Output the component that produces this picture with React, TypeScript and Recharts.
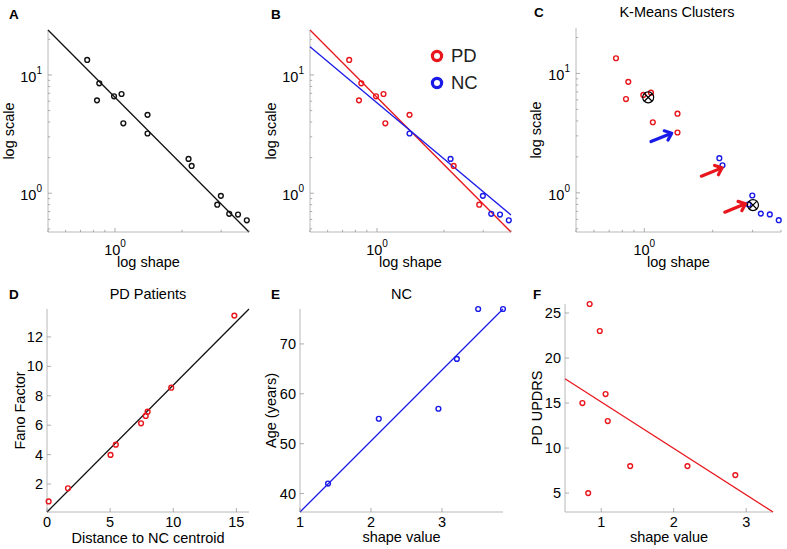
import React from 'react';
import { ComposedChart, Scatter, XAxis, YAxis, Legend } from 'recharts';

const FONT = '"Liberation Sans", Arial, Helvetica, sans-serif';
const RED = '#e8161c';
const BLUE = '#1a1ae8';
const BLACK = '#111111';
const FRAME = '#b8b8b8';

// gamma fit per subject (A-C): shape vs scale
const pdShape = [0.75, 0.85, 0.83, 0.99, 1.07, 1.09, 1.4, 2.21, 2.88];
const pdScale = [13.4, 8.5, 6.1, 6.6, 6.9, 3.9, 4.6, 1.7, 0.8];
const ncShape = [1.4, 2.14, 2.99, 3.26, 3.57, 3.91];
const ncScale = [3.2, 1.95, 0.95, 0.67, 0.66, 0.59];

// fitted power laws (end points)
const fitShape = [0.5, 4];
const allFitScale = [24, 0.47];
const pdFitScale = [24, 0.47];
const ncFitScale = [17.3, 0.655];

// k-means
const pdCluster = [1, 1, 1, 1, 1, 1, 1, 2, 2];
const ncCluster = [1, 2, 2, 2, 2, 2];
const centroidShape = [1.04, 3.01];
const centroidScale = [6.3, 0.79];
const arrowShape = [1.32, 2.2, 2.79];
const arrowScale = [3.16, 1.62, 0.81];
const arrowCluster = [2, 1, 1];

// D
const pdDistance = [0.13, 1.66, 5.03, 5.45, 7.45, 7.82, 7.97, 9.84, 14.84];
const pdFano = [0.82, 1.71, 3.98, 4.68, 6.13, 6.63, 6.92, 8.55, 13.45];
const fanoFitX = [0, 16];
const fanoFitY = [0.1, 13.9];

// E
const ncShapeValue = [1.395, 2.11, 2.95, 3.21, 3.51, 3.86];
const ncAge = [42, 55, 57, 67, 77, 77];
const ageFitX = [1, 3.86];
const ageFitY = [36.3, 77];

// F
const pdShapeValue = [0.74, 0.84, 0.82, 0.98, 1.06, 1.09, 1.4, 2.19, 2.85];
const pdUpdrs = [15, 26, 5, 23, 16, 13, 8, 8, 7];
const updrsFitX = [0.5, 3.37];
const updrsFitY = [17.7, 2.9];

const logShapeTicks = [0.5, 0.6, 0.7, 0.8, 0.9, 1, 2, 3, 4];
const logScaleTicks = [0.5, 0.6, 0.7, 0.8, 0.9, 1, 2, 3, 4, 5, 6, 7, 8, 9, 10, 20];
const fanoXTicks = [0, 5, 10, 15];
const fanoYTicks = [2, 4, 6, 8, 10, 12];
const ageXTicks = [1, 2, 3];
const ageYTicks = [40, 50, 60, 70];
const updrsXTicks = [1, 2, 3];
const updrsYTicks = [5, 10, 15, 20, 25];

const legendNames = ['PD', 'NC'];
const legendColors = [RED, BLUE];

const PAD_L = 64;
const PAD_R = 6;
const PAD_T = 8;
const PAD_B = 42;

const pts = (xs: number[], ys: number[]) => xs.map((x, i) => ({ x, y: ys[i] }));
const clusterColor = (c: number) => (c === 1 ? RED : BLUE);

function isDecade(v: number) {
  const l = Math.log10(v);
  return Math.abs(l - Math.round(l)) < 1e-9;
}

function Tick(props: any) {
  const { x, y, payload, side, log } = props;
  const v = Number(payload.value);
  const major = !log || isDecade(v);
  const len = major ? 4 : 2.2;
  let x2 = x;
  let y2 = y;
  if (side === 'bottom') y2 = y - len;
  if (side === 'top') y2 = y + len;
  if (side === 'left') x2 = x + len;
  if (side === 'right') x2 = x - len;
  let label = null;
  if (major && side === 'bottom') {
    label = log ? (
      <text x={x} y={y + 22.5} textAnchor="middle" fontSize={14.5} fill="#000">
        <tspan>10</tspan>
        <tspan dy={-7.5} fontSize={10}>{Math.round(Math.log10(v))}</tspan>
      </text>
    ) : (
      <text x={x} y={y + 14.5} textAnchor="middle" fontSize={14.5} fill="#000">{v}</text>
    );
  }
  if (major && side === 'left') {
    label = log ? (
      <text x={x - 6} y={y + 7} textAnchor="end" fontSize={14.5} fill="#000">
        <tspan>10</tspan>
        <tspan dy={-8} fontSize={10}>{Math.round(Math.log10(v))}</tspan>
      </text>
    ) : (
      <text x={x - 4} y={y + 5} textAnchor="end" fontSize={14.5} fill="#000">{v}</text>
    );
  }
  return (
    <g>
      <line x1={x} y1={y} x2={x2} y2={y2} stroke="#999" strokeWidth={0.8} />
      {label}
    </g>
  );
}

const Ring = (color: string) => (p: any) =>
  <circle cx={p.cx} cy={p.cy} r={2.4} fill="none" stroke={color} strokeWidth={1.4} />;

const NoDot = () => <g />;

const Centroid = (p: any) => (
  <g stroke="#000" strokeWidth={1.2} fill="none">
    <circle cx={p.cx} cy={p.cy} r={5.5} />
    <line x1={p.cx - 3.9} y1={p.cy - 3.9} x2={p.cx + 3.9} y2={p.cy + 3.9} />
    <line x1={p.cx - 3.9} y1={p.cy + 3.9} x2={p.cx + 3.9} y2={p.cy - 3.9} />
  </g>
);

const Arrow = (p: any) => {
  const color = clusterColor(p.payload.c);
  const dx = 20.7;
  const dy = -8.4;
  const len = Math.hypot(dx, dy);
  const ux = dx / len;
  const uy = dy / len;
  const bx = p.cx - ux * 6;
  const by = p.cy - uy * 6;
  return (
    <g stroke={color} strokeWidth={3.2} strokeLinecap="round" strokeLinejoin="round" fill="none">
      <line x1={p.cx - dx} y1={p.cy - dy} x2={p.cx - ux * 1.5} y2={p.cy - uy * 1.5} />
      <polyline points={`${bx - uy * 5},${by + ux * 5} ${p.cx},${p.cy} ${bx + uy * 5},${by - ux * 5}`} />
    </g>
  );
};

function xTitle(text: string, off: number) {
  return (p: any) => {
    const vb = p.viewBox || {};
    return (
      <text x={vb.x + vb.width / 2} y={vb.y + off} textAnchor="middle" fontSize={14.5} fill="#000">{text}</text>
    );
  };
}

function yTitle(text: string, off: number) {
  return (p: any) => {
    const vb = p.viewBox || {};
    const cx = vb.x + vb.width - off;
    const cy = vb.y + vb.height / 2;
    return (
      <text transform={`translate(${cx},${cy}) rotate(-90)`} textAnchor="middle" fontSize={14.5} fill="#000">{text}</text>
    );
  };
}

function Panel(props: any) {
  const { box, x, y, children } = props;
  const W = box.w + PAD_L + PAD_R;
  const H = box.h + PAD_T + PAD_B;
  const xs = x.log ? 'log' : 'linear';
  const ys = y.log ? 'log' : 'linear';
  return (
    <div style={{ position: 'absolute', left: box.x - PAD_L, top: box.y - PAD_T }}>
      <ComposedChart width={W} height={H} margin={{ top: PAD_T, right: PAD_R, bottom: 0, left: 0 }}>
        <XAxis xAxisId="b" orientation="bottom" type="number" dataKey="x" scale={xs} domain={x.domain}
          ticks={x.ticks} interval={0} height={PAD_B} tickSize={0} tickMargin={0} tickLine={false}
          axisLine={{ stroke: FRAME }} tick={<Tick side="bottom" log={x.log} />} label={xTitle(x.label, x.off)} />
        <XAxis xAxisId="t" orientation="top" type="number" dataKey="x" scale={xs} domain={x.domain}
          ticks={x.ticks} interval={0} height={0} tickSize={0} tickMargin={0} tickLine={false}
          axisLine={{ stroke: FRAME }} tick={<Tick side="top" log={x.log} />} />
        <YAxis yAxisId="l" orientation="left" type="number" dataKey="y" scale={ys} domain={y.domain}
          ticks={y.ticks} interval={0} width={PAD_L} tickSize={0} tickMargin={0} tickLine={false}
          axisLine={{ stroke: FRAME }} tick={<Tick side="left" log={y.log} />} label={yTitle(y.label, y.off)} />
        <YAxis yAxisId="r" orientation="right" type="number" dataKey="y" scale={ys} domain={y.domain}
          ticks={y.ticks} interval={0} width={0} tickSize={0} tickMargin={0} tickLine={false}
          axisLine={{ stroke: FRAME }} tick={<Tick side="right" log={y.log} />} />
        {children}
      </ComposedChart>
    </div>
  );
}

const ax = { xAxisId: 'b', yAxisId: 'l', isAnimationActive: false };

function fit(data: any[], color: string) {
  return (
    <Scatter {...ax} data={data} fill={color} line={{ stroke: color, strokeWidth: 1.3 }} shape={NoDot} legendType="none" />
  );
}

const logX = (label: string) => ({ log: true, domain: [0.5, 4], ticks: logShapeTicks, label, off: 35 });
const logY = (label: string, off = 34) => ({ log: true, domain: [0.47, 24], ticks: logScaleTicks, label, off });

const legendContent = () => (
  <div style={{ fontFamily: FONT }}>
    {legendNames.map((n, i) => (
      <div key={n} style={{ display: 'flex', alignItems: 'center', height: 27 }}>
        <svg width={16} height={16}>
          <circle cx={8} cy={8} r={4.6} fill="none" stroke={legendColors[i]} strokeWidth={3.2} />
        </svg>
        <span style={{ marginLeft: 6, fontSize: 18.5, color: '#222' }}>{n}</span>
      </div>
    ))}
  </div>
);

const letters = [
  { t: 'A', x: 9, y: 18.5 }, { t: 'B', x: 271, y: 18.5 }, { t: 'C', x: 534, y: 17 },
  { t: 'D', x: 9, y: 298.5 }, { t: 'E', x: 271, y: 298.5 }, { t: 'F', x: 533, y: 299 },
];
const titles = [
  { t: 'K-Means Clusters', x: 677, y: 17 }, { t: 'PD Patients', x: 148, y: 299 }, { t: 'NC', x: 401.5, y: 299 },
];

export default function App() {
  const pdPts = pts(pdShape, pdScale);
  const ncPts = pts(ncShape, ncScale);
  const clustered = [
    ...pdShape.map((s, i) => ({ x: s, y: pdScale[i], c: pdCluster[i] })),
    ...ncShape.map((s, i) => ({ x: s, y: ncScale[i], c: ncCluster[i] })),
  ];
  return (
    <div style={{ position: 'absolute', left: 0, top: 0, width: 787, height: 549, overflow: 'hidden', background: '#fff', fontFamily: FONT }}>
      <Panel box={{ x: 48, y: 30, w: 201, h: 202 }} x={logX('log shape')} y={logY('log scale')}>
        {fit(pts(fitShape, allFitScale), BLACK)}
        <Scatter {...ax} data={[...pdPts, ...ncPts]} shape={Ring(BLACK)} />
      </Panel>

      <Panel box={{ x: 310, y: 30, w: 201, h: 202 }} x={logX('log shape')} y={logY('log scale')}>
        {fit(pts(fitShape, pdFitScale), RED)}
        {fit(pts(fitShape, ncFitScale), BLUE)}
        <Scatter {...ax} name="PD" data={pdPts} fill={RED} shape={Ring(RED)} />
        <Scatter {...ax} name="NC" data={ncPts} fill={BLUE} shape={Ring(BLUE)} />
        <Legend layout="vertical" align="center" verticalAlign="middle"
          wrapperStyle={{ left: 183, top: 20, width: 80 }} content={legendContent} />
      </Panel>

      <Panel box={{ x: 576, y: 28, w: 205, h: 204 }} x={logX('log shape')} y={logY('log scale', 35)}>
        <Scatter {...ax} data={clustered.filter((d) => d.c === 1)} shape={Ring(RED)} />
        <Scatter {...ax} data={clustered.filter((d) => d.c === 2)} shape={Ring(BLUE)} />
        <Scatter {...ax} data={pts(centroidShape, centroidScale)} shape={Centroid} />
        <Scatter {...ax} data={arrowShape.map((s, i) => ({ x: s, y: arrowScale[i], c: arrowCluster[i] }))} shape={Arrow} />
      </Panel>

      <Panel box={{ x: 47, y: 309, w: 202, h: 203 }}
        x={{ domain: [0, 16], ticks: fanoXTicks, label: 'Distance to NC centroid', off: 31 }}
        y={{ domain: [0.1, 13.9], ticks: fanoYTicks, label: 'Fano Factor', off: 22 }}>
        {fit(pts(fanoFitX, fanoFitY), BLACK)}
        <Scatter {...ax} data={pts(pdDistance, pdFano)} shape={Ring(RED)} />
      </Panel>

      <Panel box={{ x: 300, y: 309, w: 203, h: 203 }}
        x={{ domain: [1, 3.86], ticks: ageXTicks, label: 'shape value', off: 29.5 }}
        y={{ domain: [36.3, 77], ticks: ageYTicks, label: 'Age (years)', off: 24 }}>
        {fit(pts(ageFitX, ageFitY), BLUE)}
        <Scatter {...ax} data={pts(ncShapeValue, ncAge)} shape={Ring(BLUE)} />
      </Panel>

      <Panel box={{ x: 565, y: 304, w: 208, h: 208 }}
        x={{ domain: [0.5, 3.37], ticks: updrsXTicks, label: 'shape value', off: 29.5 }}
        y={{ domain: [2.9, 26], ticks: updrsYTicks, label: 'PD UPDRS', off: 23 }}>
        {fit(pts(updrsFitX, updrsFitY), RED)}
        <Scatter {...ax} data={pts(pdShapeValue, pdUpdrs)} shape={Ring(RED)} />
      </Panel>

      <svg width={787} height={549} style={{ position: 'absolute', left: 0, top: 0, pointerEvents: 'none' }}>
        {letters.map((l) => (
          <text key={l.t} x={l.x} y={l.y} fontSize={13.5} fontWeight="bold" fill="#000">{l.t}</text>
        ))}
        {titles.map((t) => (
          <text key={t.t} x={t.x} y={t.y} textAnchor="middle" fontSize={14.5} fill="#000">{t.t}</text>
        ))}
      </svg>
    </div>
  );
}
